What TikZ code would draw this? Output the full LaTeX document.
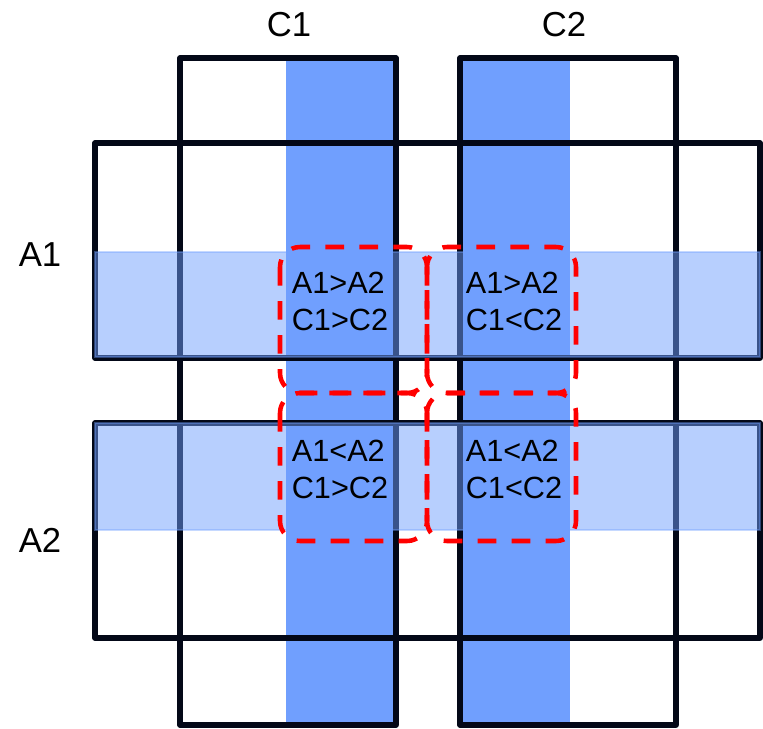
\documentclass[tikz,border=0pt]{standalone}
\usepackage{fontspec}
\setmainfont{Liberation Sans}
\definecolor{stripeblue}{HTML}{709FFE}
\definecolor{frameink}{HTML}{030817}
\definecolor{zonered}{HTML}{FF0000}
\tikzset{
  x=0.75pt, y=-0.75pt,
  stripe/.style={fill=stripeblue, draw=none},
  band/.style={fill=stripeblue, fill opacity=0.5, draw=stripeblue, draw opacity=0.4, line width=1.4pt},
  frame/.style={draw=frameink, line width=3.8pt, line join=round},
  zone/.style={draw=zonered, line width=3.4pt, rounded corners=15pt, dash pattern=on 14pt off 11.5pt},
  celltext/.style={font=\fontsize{23}{27.75}\selectfont, align=left, inner sep=0pt, text=black},
  axislabel/.style={font=\fontsize{26}{30}\selectfont, inner sep=0pt, text=black}
}
\begin{document}
\begin{tikzpicture}
\useasboundingbox (0,0) rectangle (763,728);

% column stripes
\fill[stripe] (286,55) rectangle (397,728);
\fill[stripe] (460,58) rectangle (570,725);

% column frames
\draw[frame] (180,58) rectangle (396,725);
\draw[frame] (460,58) rectangle (676,725);
% row frames
\draw[frame] (95,143) rectangle (760,358);
\draw[frame] (95,423) rectangle (760,638);

% row bands, translucent
\path[band] (95,252) rectangle (760,357);
\path[band] (95,423) rectangle (760,530);

% dashed quadrant outlines
\draw[zone] (280,247) rectangle (427,393);
\draw[zone] (427,247) rectangle (576,393);
\draw[zone] (280,393) rectangle (427,541);
\draw[zone] (427,393) rectangle (576,541);

% quadrant texts
\node[celltext] (q11) at (340,301.5) {A1>A2\\C1>C2};
\node[celltext] (q12) at (514,301.5) {A1>A2\\C1<C2};
\node[celltext] (q21) at (340,469) {A1<A2\\C1>C2};
\node[celltext] (q22) at (514,469) {A1<A2\\C1<C2};

% axis labels
\node[axislabel] (lc1) at (289,24.5) {C1};
\node[axislabel] (lc2) at (564,24.5) {C2};
\node[axislabel] (la1) at (40,254.5) {A1};
\node[axislabel] (la2) at (40,540) {A2};
\end{tikzpicture}
\end{document}
